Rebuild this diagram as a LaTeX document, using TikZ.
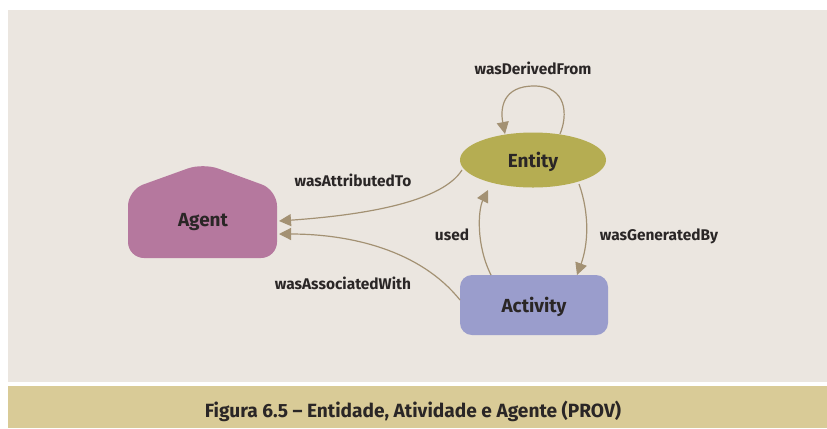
\documentclass[tikz,border=0pt]{standalone}
\usepackage{fontspec}
\setmainfont{Fira Sans}
\usetikzlibrary{arrows.meta,shapes.geometric}
\definecolor{bgc}{HTML}{EBE6E0}
\definecolor{capc}{HTML}{D9CB97}
\definecolor{agentc}{HTML}{B5789E}
\definecolor{entityc}{HTML}{B5AD52}
\definecolor{activityc}{HTML}{9A9DCC}
\definecolor{arrowc}{HTML}{A39173}
\definecolor{txtc}{HTML}{2A2626}
\begin{document}
\begin{tikzpicture}[x=1bp,y=-1bp,
  lbl/.style={font=\bfseries\fontsize{15.5}{18}\selectfont, text=txtc},
  nodetxt/.style={font=\bfseries\fontsize{19}{22}\selectfont, text=txtc, text depth=0pt},
  conn/.style={draw=arrowc, line width=1.2pt, -{Triangle[length=12bp,width=12bp]}}]
\useasboundingbox (0,0) rectangle (827,428);
\fill[white] (0,0) rectangle (827,428);
\fill[bgc] (8,10) rectangle (827,382);
\fill[capc] (8,386) rectangle (827,428);
\node[font=\bfseries\fontsize{19.2}{22}\selectfont, text=txtc] (cap) at (413,411) {Figura 6.5 – Entidade, Atividade e Agente (PROV)};
% Agent pentagon
\fill[agentc, rounded corners=16bp] (128,258) -- (128,190) -- (203,163) -- (277,190) -- (277,258) -- cycle;
\node[nodetxt] (agent) at (203,220) {Agent};
% Entity
\node[ellipse, fill=entityc, minimum width=146bp, minimum height=55bp, inner sep=0pt, nodetxt] (entity) at (533,160) {Entity};
% Activity
\node[rectangle, rounded corners=12bp, fill=activityc, minimum width=148bp, minimum height=60bp, nodetxt] (activity) at (534,305) {Activity};
% connector ends
\coordinate (ag1) at (279,221);
\coordinate (ag2) at (279,234);
\coordinate (e1) at (462,170);
\coordinate (a1) at (460,300);
\coordinate (u0) at (491,275);
\coordinate (u1) at (488,190);
\coordinate (g0) at (579,184);
\coordinate (g1) at (577,275);
\coordinate (d0) at (560,134);
\coordinate (dtop) at (534,86);
\coordinate (d1) at (505,134);
% connectors
\draw[conn] (e1) .. controls (440,205) and (350,216) .. (ag1);
\draw[conn] (a1) .. controls (420,250) and (350,234) .. (ag2);
\draw[conn] (u0) .. controls (476,245) and (478,210) .. (u1);
\draw[conn] (g0) .. controls (590,215) and (588,245) .. (g1);
\draw[conn] (d0) .. controls (568,115) and (567,86) .. (dtop)
                 .. controls (503,86) and (500,108) .. (d1);
% labels
\node[lbl] (l1) at (533,68) {wasDerivedFrom};
\node[lbl] (l2) at (353,180) {wasAttributedTo};
\node[lbl] (l3) at (343,283) {wasAssociatedWith};
\node[lbl] (l4) at (452,235) {used};
\node[lbl] (l5) at (659,236) {wasGeneratedBy};
\end{tikzpicture}
\end{document}
